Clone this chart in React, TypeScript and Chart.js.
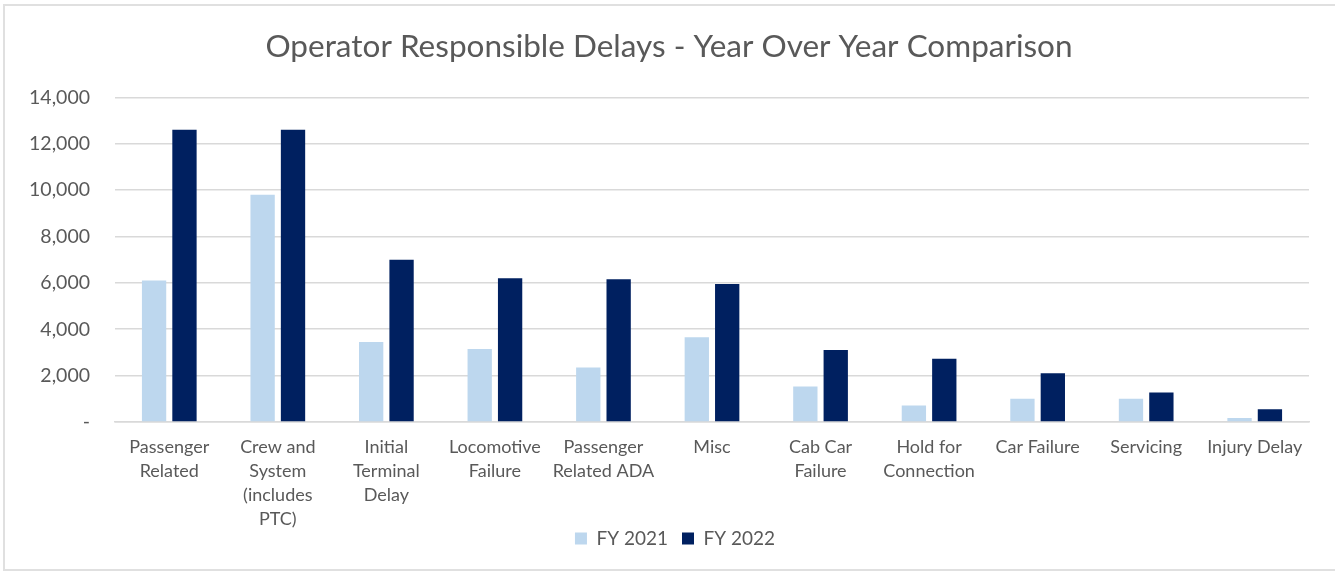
import React, { useEffect, useRef } from "react";
import { Chart, registerables } from "chart.js";

Chart.register(...registerables);

const categories: string[][] = [
  ["Passenger", "Related"],
  ["Crew and", "System", "(includes", "PTC)"],
  ["Initial", "Terminal", "Delay"],
  ["Locomotive", "Failure"],
  ["Passenger", "Related ADA"],
  ["Misc"],
  ["Cab Car", "Failure"],
  ["Hold for", "Connection"],
  ["Car Failure"],
  ["Servicing"],
  ["Injury Delay"],
];

const fy2021: number[] = [6100, 9800, 3450, 3150, 2350, 3650, 1530, 710, 1000, 1000, 170];
const fy2022: number[] = [12600, 12600, 7000, 6200, 6150, 5950, 3100, 2730, 2100, 1270, 550];

const seriesNames: string[] = ["FY 2021", "FY 2022"];
const yTicks: number[] = [0, 2000, 4000, 6000, 8000, 10000, 12000, 14000];
const titleText = "Operator Responsible Delays - Year Over Year Comparison";

const FONT = "Lato, 'Open Sans', 'Noto Sans', sans-serif";
const TEXT = "#595959";
const GRID = "#D9D9D9";

const LEGEND_PAD = 14;
const LEGEND_CENTER_Y = 539;
const LEGEND_CENTER_X = 675;
const TITLE_CENTER_X = 669;

const boxShift = {
  id: "boxShift",
  afterLayout(chart: any) {
    const lg = chart.legend;
    if (lg) {
      const h = lg.bottom - lg.top;
      const top = LEGEND_CENTER_Y - (10 + LEGEND_PAD);
      lg.top = top;
      lg.bottom = top + h;
      const dx = LEGEND_CENTER_X - (lg.left + lg.right) / 2;
      lg.left += dx;
      lg.right += dx;
    }
    const tb = chart.titleBlock;
    if (tb) {
      const dx = TITLE_CENTER_X - (tb.left + tb.right) / 2;
      tb.left += dx;
      tb.right += dx;
    }
  },
};

export default function App() {
  const ref = useRef<HTMLCanvasElement | null>(null);

  useEffect(() => {
    const canvas = ref.current;
    if (!canvas) return;
    const chart = new Chart(canvas, {
      type: "bar",
      data: {
        labels: categories,
        datasets: [
          {
            label: seriesNames[0],
            data: fy2021,
            backgroundColor: "#BDD7EE",
            categoryPercentage: 0.56,
            barPercentage: 0.8,
          },
          {
            label: seriesNames[1],
            data: fy2022,
            backgroundColor: "#002060",
            categoryPercentage: 0.56,
            barPercentage: 0.8,
          },
        ],
      },
      plugins: [boxShift],
      options: {
        responsive: false,
        animation: false,
        layout: { padding: { left: 0, right: 26, top: 0, bottom: 0 } },
        plugins: {
          title: {
            display: true,
            text: titleText,
            color: TEXT,
            font: { family: FONT, size: 31.5, weight: "normal", lineHeight: 1.2 },
            padding: { top: 28, bottom: 31.5 },
          },
          legend: {
            display: true,
            position: "bottom",
            labels: {
              color: TEXT,
              font: { family: FONT, size: 19 },
              boxWidth: 12,
              boxHeight: 12,
              padding: LEGEND_PAD,
            },
          },
          tooltip: { enabled: false },
        },
        scales: {
          x: {
            grid: { display: false },
            border: { display: true, color: GRID, width: 1.5 },
            afterFit: (axis: any) => {
              axis.height = 108;
            },
            ticks: {
              color: TEXT,
              font: { family: FONT, size: 18, lineHeight: 1.333 },
              padding: 5,
              maxRotation: 0,
              autoSkip: false,
            },
          },
          y: {
            min: 0,
            max: 14000,
            afterBuildTicks: (axis: any) => {
              axis.ticks = yTicks.map((v) => ({ value: v }));
            },
            afterFit: (axis: any) => {
              axis.width = 115;
            },
            grid: { color: GRID, lineWidth: 1.5, drawTicks: false },
            border: { display: false },
            ticks: {
              color: TEXT,
              font: { family: FONT, size: 19.5 },
              padding: 25,
              callback: (v: any) => (Number(v) === 0 ? "-" : Number(v).toLocaleString("en-US")),
            },
          },
        },
      },
    });
    return () => chart.destroy();
  }, []);

  return (
    <div style={{ position: "fixed", left: 0, top: 0, width: 1335, height: 573, background: "#fff" }}>
      <div
        style={{
          position: "absolute",
          left: 3,
          top: 4,
          width: 1340,
          height: 563,
          borderTop: "2px solid #E0E0E0",
          borderLeft: "2px solid #E0E0E0",
          borderBottom: "2px solid #E0E0E0",
        }}
      />
      <canvas ref={ref} width={1335} height={573} style={{ position: "absolute", left: 0, top: 0, display: "block" }} />
    </div>
  );
}
